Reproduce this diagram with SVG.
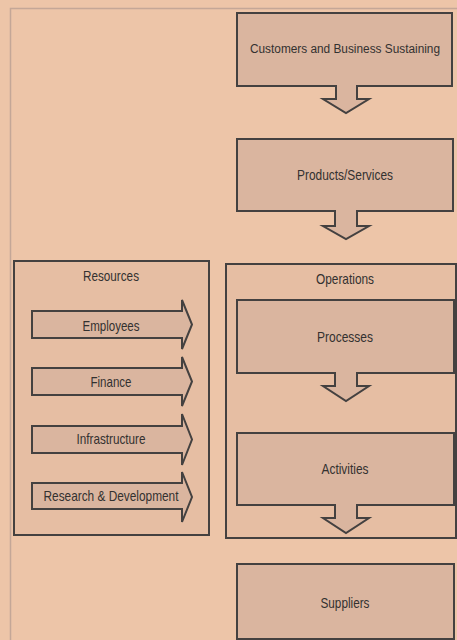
<svg xmlns="http://www.w3.org/2000/svg" width="457" height="640" viewBox="0 0 457 640">
<style>
.shape{fill:#DAB59F;stroke:#444140;stroke-width:2;stroke-linejoin:miter}
.cont{fill:#E6BEA3;stroke:#444140;stroke-width:2}
.t{font-family:"Liberation Sans",Arial,sans-serif;font-size:15px;fill:#333130;text-anchor:middle;dominant-baseline:central}
.s{font-size:12.5px}
</style>
<rect width="457" height="640" fill="#EDC5A8"/>
<rect x="10.5" y="8.5" width="460" height="650" fill="none" stroke="#C4A797" stroke-width="1.5"/>
<g id="connectors"></g>
<g id="customers">
<path class="shape" d="M237,13 H452 V86 H357 V99 H369 L346,113 L323,99 H336 V86 H237 Z"/>
<text class="t s" x="345" y="49" textLength="190" lengthAdjust="spacingAndGlyphs">Customers and Business Sustaining</text>
</g>
<g id="products">
<path class="shape" d="M237,139 H453 V211 H357 V226 H369 L346,239 L323,226 H335 V211 H237 Z"/>
<text class="t" x="345" y="174" textLength="96" lengthAdjust="spacingAndGlyphs">Products/Services</text>
</g>
<g id="resources">
<rect class="cont" x="14" y="261" width="195" height="274"/>
<text class="t" x="111" y="275" textLength="56" lengthAdjust="spacingAndGlyphs">Resources</text>
</g>
<g id="employees">
<path class="shape" d="M32,311 H182 V300 L192,324.5 L182,349 V338 H32 Z"/>
<text class="t" x="111" y="325" textLength="57" lengthAdjust="spacingAndGlyphs">Employees</text>
</g>
<g id="finance">
<path class="shape" d="M32,368 H182 V357 L192,381.5 L182,406 V395 H32 Z"/>
<text class="t" x="111" y="381" textLength="41" lengthAdjust="spacingAndGlyphs">Finance</text>
</g>
<g id="infrastructure">
<path class="shape" d="M32,426 H182 V414 L192,439.5 L182,465 V453 H32 Z"/>
<text class="t" x="111" y="438" textLength="69" lengthAdjust="spacingAndGlyphs">Infrastructure</text>
</g>
<g id="research">
<path class="shape" d="M32,483 H182 V472 L192,497 L182,522 V509 H32 Z"/>
<text class="t" x="111" y="495" textLength="135" lengthAdjust="spacingAndGlyphs">Research &amp; Development</text>
</g>
<g id="operations">
<rect class="cont" x="226" y="264" width="230" height="274"/>
<text class="t" x="345" y="278" textLength="58" lengthAdjust="spacingAndGlyphs">Operations</text>
</g>
<g id="processes">
<path class="shape" d="M237,300 H454 V373 H357 V386 H369 L346,401 L323,386 H335 V373 H237 Z"/>
<text class="t" x="345" y="336" textLength="56" lengthAdjust="spacingAndGlyphs">Processes</text>
</g>
<g id="activities">
<path class="shape" d="M237,433 H454 V505 H357 V518 H369 L346,533 L323,518 H335 V505 H237 Z"/>
<text class="t" x="345" y="468" textLength="47" lengthAdjust="spacingAndGlyphs">Activities</text>
</g>
<g id="suppliers">
<rect class="shape" x="237" y="564" width="217" height="75"/>
<text class="t" x="345" y="602" textLength="49" lengthAdjust="spacingAndGlyphs">Suppliers</text>
</g>
</svg>
